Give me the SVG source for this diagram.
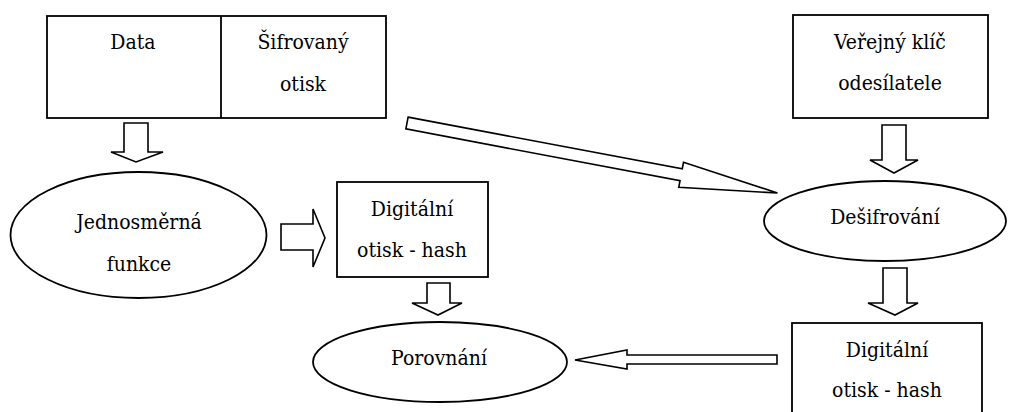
<svg xmlns="http://www.w3.org/2000/svg" width="1010" height="412" viewBox="0 0 1010 412">
<style>
.shape{fill:#fff;stroke:#000;stroke-width:1.8}
.arrow{fill:#fff;stroke:#000;stroke-width:1.6;stroke-linejoin:miter}
.t{font-family:'DejaVu Serif Condensed','DejaVu Serif','Liberation Serif',serif;font-size:21px;fill:#000;text-anchor:middle}
</style>
<rect width="1010" height="412" fill="#fff"/>
<g id="connectors">
<polygon class="arrow" points="124,123 148,123 148,152 163,152 136,162 111,152 124,152"/>
<polygon class="arrow" points="882,125 906,125 906,160 918,160 894,173 870,160 882,160"/>
<polygon class="arrow" points="883,268 907,268 907,303 918,303 895,315 868,303 883,303"/>
<polygon class="arrow" points="427,283 450,283 450,303 462,303 438,315 412,303 427,303"/>
<polygon class="arrow" points="281,224 313,224 313,209 325,238 313,267 313,250 281,250"/>
<polygon class="arrow" points="777,355 627,355 627,350 575,360 627,369 627,364 777,364"/>
<polygon class="arrow" transform="translate(407,123) rotate(10.7)" points="0,-6 279,-6 279,-12.7 377,0 279,12.7 279,6 0,6"/>
</g>
<g id="node-data">
<rect class="shape" x="47" y="16" width="339" height="102"/>
<line x1="221" y1="16" x2="221" y2="118" stroke="#000" stroke-width="1.8"/>
<text class="t" x="133" y="49">Data</text>
<text class="t" x="303" y="49">Šifrovaný</text>
<text class="t" x="303" y="91">otisk</text>
</g>
<g id="node-key">
<rect class="shape" x="793" y="15" width="195" height="103"/>
<text class="t" x="890" y="49">Veřejný klíč</text>
<text class="t" x="890" y="90">odesílatele</text>
</g>
<g id="node-hashfn">
<ellipse class="shape" cx="138.5" cy="235" rx="128" ry="63"/>
<text class="t" x="139" y="229">Jednosměrná</text>
<text class="t" x="139" y="271">funkce</text>
</g>
<g id="node-hash1">
<rect class="shape" x="337" y="182" width="151" height="95"/>
<text class="t" x="412" y="216">Digitální</text>
<text class="t" x="412" y="257">otisk - hash</text>
</g>
<g id="node-decrypt">
<ellipse class="shape" cx="885" cy="221" rx="121" ry="40"/>
<text class="t" x="885" y="224">Dešifrování</text>
</g>
<g id="node-hash2">
<rect class="shape" x="792" y="323" width="190" height="100"/>
<text class="t" x="887" y="357">Digitální</text>
<text class="t" x="887" y="397">otisk - hash</text>
</g>
<g id="node-compare">
<ellipse class="shape" cx="440" cy="362" rx="127" ry="40"/>
<text class="t" x="439" y="365">Porovnání</text>
</g>
</svg>
